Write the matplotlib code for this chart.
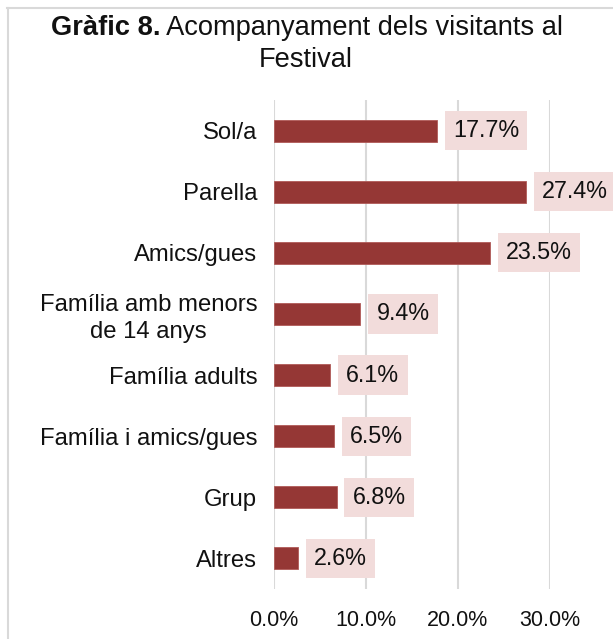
import matplotlib.pyplot as plt
from matplotlib.lines import Line2D

plt.rcParams["font.family"] = ["Liberation Sans", "DejaVu Sans"]

categories = ["Sol/a", "Parella", "Amics/gues", "Família amb menors\nde 14 anys",
              "Família adults", "Família i amics/gues", "Grup", "Altres"]
values = [17.7, 27.4, 23.5, 9.4, 6.1, 6.5, 6.8, 2.6]
xticks = [0, 10, 20, 30]

W, H = 613, 639
fig = plt.figure(figsize=(W / 100, H / 100), dpi=100)
ax = fig.add_axes([274 / W, 1 - 589 / H, (550 - 274) / W, (589 - 100) / H])

y = list(range(len(categories)))
ax.barh(y, values, height=0.36, color="#953735", edgecolor="#B05A58", linewidth=0.6, zorder=3)

for yi, v in zip(y, values):
    ax.text(v + 1.75, yi, f"{v:.1f}%", va="center", ha="left", fontsize=16.8,
            color="#111111", zorder=4,
            bbox=dict(boxstyle="square,pad=0.35", facecolor="#F2DCDB", edgecolor="none"))

ax.set_xlim(0, 30)
ax.set_ylim(len(categories) - 0.5, -0.5)
ax.set_xticks(xticks)
ax.set_xticklabels([f"{t:.1f}%" for t in xticks], fontsize=15.5)
ax.set_yticks(y)
ax.set_yticklabels(categories, fontsize=17.2, multialignment="center", linespacing=1.25)
ax.tick_params(axis="both", length=0, colors="#111111")
ax.tick_params(axis="y", pad=12)
ax.tick_params(axis="x", pad=15)
ax.xaxis.grid(True, color="#D9D9D9", linewidth=1.5, zorder=0)
ax.set_axisbelow(True)
for s in ax.spines.values():
    s.set_visible(False)

# title drawn in two parts so that "Gràfic 8." is bold
t1 = fig.text(0, 1 - 28 / H, "Gràfic 8.", fontsize=19.6, fontweight="bold", ha="left", va="center", color="#111111")
t2 = fig.text(0, 1 - 28 / H, " Acompanyament dels visitants al", fontsize=19.6, ha="left", va="center", color="#111111")
fig.canvas.draw()
r = fig.canvas.get_renderer()
w1 = t1.get_window_extent(r).width
w2 = t2.get_window_extent(r).width
x0 = 307 - (w1 + w2) / 2
t1.set_x(x0 / W)
t2.set_x((x0 + w1) / W)
fig.text(306 / W, 1 - 60 / H, "Festival", fontsize=19.6, ha="center", va="center", color="#111111")

fig.add_artist(Line2D([7.5 / W, 7.5 / W], [0, 1 - 8 / H], color="#D9D9D9", linewidth=1.5))
fig.add_artist(Line2D([7 / W, 1], [1 - 8 / H, 1 - 8 / H], color="#D9D9D9", linewidth=1.5))

fig.savefig("out.png", dpi=100)
